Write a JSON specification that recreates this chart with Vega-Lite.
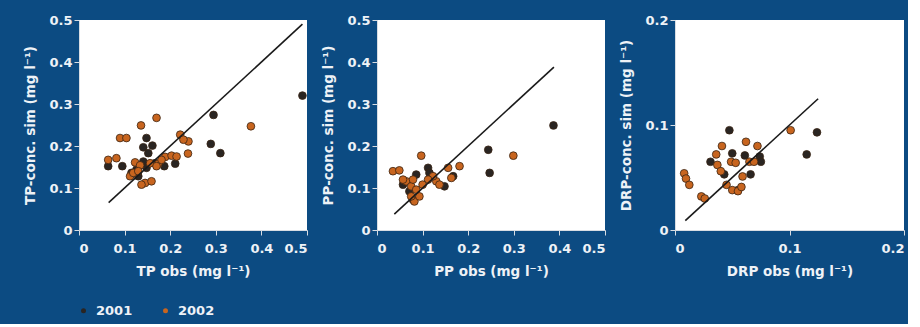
{
  "$schema": "https://vega.github.io/schema/vega-lite/v6.json",
  "background": "#0c4b82",
  "padding": {"left": 23, "top": 14, "right": 3, "bottom": 6},
  "bounds": "flush",
  "spacing": 70,
  "config": {
    "view": {"fill": "white", "stroke": null},
    "font": "DejaVu Sans",
    "axis": {
      "labelFont": "DejaVu Sans", "labelFontWeight": "bold", "labelFontSize": 13, "labelColor": "#eef2f7",
      "titleFont": "DejaVu Sans", "titleFontWeight": "bold", "titleFontSize": 13.5, "titleColor": "#eef2f7",
      "domainColor": "#d8dde3", "tickColor": "#d8dde3", "tickSize": 5, "grid": false, "format": "~g"
    },
    "axisX": {"labelPadding": 7, "titlePadding": 9},
    "axisY": {"labelPadding": 2, "titlePadding": 11},
    "legend": {
      "labelFont": "DejaVu Sans", "labelFontWeight": "bold", "labelFontSize": 13, "labelColor": "#eef2f7"
    }
  },
  "datasets": {
    "pts": [
      {"panel": "TP", "year": "2001", "obs": 0.49, "sim": 0.32},
      {"panel": "TP", "year": "2001", "obs": 0.295, "sim": 0.274},
      {"panel": "TP", "year": "2001", "obs": 0.289, "sim": 0.205},
      {"panel": "TP", "year": "2001", "obs": 0.31, "sim": 0.183},
      {"panel": "TP", "year": "2001", "obs": 0.148, "sim": 0.219},
      {"panel": "TP", "year": "2001", "obs": 0.141, "sim": 0.197},
      {"panel": "TP", "year": "2001", "obs": 0.161, "sim": 0.201},
      {"panel": "TP", "year": "2001", "obs": 0.152, "sim": 0.183},
      {"panel": "TP", "year": "2001", "obs": 0.064, "sim": 0.152},
      {"panel": "TP", "year": "2001", "obs": 0.095, "sim": 0.152},
      {"panel": "TP", "year": "2001", "obs": 0.141, "sim": 0.163},
      {"panel": "TP", "year": "2001", "obs": 0.211, "sim": 0.158},
      {"panel": "TP", "year": "2001", "obs": 0.187, "sim": 0.152},
      {"panel": "TP", "year": "2001", "obs": 0.115, "sim": 0.136},
      {"panel": "TP", "year": "2001", "obs": 0.126, "sim": 0.144},
      {"panel": "TP", "year": "2001", "obs": 0.148, "sim": 0.148},
      {"panel": "TP", "year": "2001", "obs": 0.167, "sim": 0.159},
      {"panel": "TP", "year": "2001", "obs": 0.13, "sim": 0.128},
      {"panel": "TP", "year": "2002", "obs": 0.377, "sim": 0.247},
      {"panel": "TP", "year": "2002", "obs": 0.17, "sim": 0.267},
      {"panel": "TP", "year": "2002", "obs": 0.136, "sim": 0.249},
      {"panel": "TP", "year": "2002", "obs": 0.09, "sim": 0.219},
      {"panel": "TP", "year": "2002", "obs": 0.104, "sim": 0.219},
      {"panel": "TP", "year": "2002", "obs": 0.222, "sim": 0.227},
      {"panel": "TP", "year": "2002", "obs": 0.24, "sim": 0.211},
      {"panel": "TP", "year": "2002", "obs": 0.229, "sim": 0.215},
      {"panel": "TP", "year": "2002", "obs": 0.239, "sim": 0.182},
      {"panel": "TP", "year": "2002", "obs": 0.064, "sim": 0.167},
      {"panel": "TP", "year": "2002", "obs": 0.082, "sim": 0.171},
      {"panel": "TP", "year": "2002", "obs": 0.123, "sim": 0.161},
      {"panel": "TP", "year": "2002", "obs": 0.134, "sim": 0.154},
      {"panel": "TP", "year": "2002", "obs": 0.156, "sim": 0.159},
      {"panel": "TP", "year": "2002", "obs": 0.174, "sim": 0.158},
      {"panel": "TP", "year": "2002", "obs": 0.189, "sim": 0.174},
      {"panel": "TP", "year": "2002", "obs": 0.203, "sim": 0.177},
      {"panel": "TP", "year": "2002", "obs": 0.214, "sim": 0.175},
      {"panel": "TP", "year": "2002", "obs": 0.145, "sim": 0.112},
      {"panel": "TP", "year": "2002", "obs": 0.159, "sim": 0.116},
      {"panel": "TP", "year": "2002", "obs": 0.137, "sim": 0.108},
      {"panel": "TP", "year": "2002", "obs": 0.112, "sim": 0.128},
      {"panel": "TP", "year": "2002", "obs": 0.119, "sim": 0.136},
      {"panel": "TP", "year": "2002", "obs": 0.181, "sim": 0.167},
      {"panel": "TP", "year": "2002", "obs": 0.17, "sim": 0.152},
      {"panel": "TP", "year": "2002", "obs": 0.13, "sim": 0.14},
      {"panel": "PP", "year": "2001", "obs": 0.387, "sim": 0.249},
      {"panel": "PP", "year": "2001", "obs": 0.244, "sim": 0.191},
      {"panel": "PP", "year": "2001", "obs": 0.247, "sim": 0.136},
      {"panel": "PP", "year": "2001", "obs": 0.086, "sim": 0.132},
      {"panel": "PP", "year": "2001", "obs": 0.112, "sim": 0.148},
      {"panel": "PP", "year": "2001", "obs": 0.167, "sim": 0.128},
      {"panel": "PP", "year": "2001", "obs": 0.148, "sim": 0.104},
      {"panel": "PP", "year": "2001", "obs": 0.057, "sim": 0.108},
      {"panel": "PP", "year": "2001", "obs": 0.079, "sim": 0.072},
      {"panel": "PP", "year": "2001", "obs": 0.115, "sim": 0.136},
      {"panel": "PP", "year": "2001", "obs": 0.071, "sim": 0.092},
      {"panel": "PP", "year": "2002", "obs": 0.299, "sim": 0.177},
      {"panel": "PP", "year": "2002", "obs": 0.097, "sim": 0.177},
      {"panel": "PP", "year": "2002", "obs": 0.035, "sim": 0.14},
      {"panel": "PP", "year": "2002", "obs": 0.049, "sim": 0.142},
      {"panel": "PP", "year": "2002", "obs": 0.156, "sim": 0.148},
      {"panel": "PP", "year": "2002", "obs": 0.181, "sim": 0.152},
      {"panel": "PP", "year": "2002", "obs": 0.163, "sim": 0.124},
      {"panel": "PP", "year": "2002", "obs": 0.064, "sim": 0.116},
      {"panel": "PP", "year": "2002", "obs": 0.075, "sim": 0.104},
      {"panel": "PP", "year": "2002", "obs": 0.082, "sim": 0.068},
      {"panel": "PP", "year": "2002", "obs": 0.13, "sim": 0.116},
      {"panel": "PP", "year": "2002", "obs": 0.123, "sim": 0.128},
      {"panel": "PP", "year": "2002", "obs": 0.112, "sim": 0.12},
      {"panel": "PP", "year": "2002", "obs": 0.057, "sim": 0.12},
      {"panel": "PP", "year": "2002", "obs": 0.086, "sim": 0.096},
      {"panel": "PP", "year": "2002", "obs": 0.1, "sim": 0.108},
      {"panel": "PP", "year": "2002", "obs": 0.137, "sim": 0.108},
      {"panel": "PP", "year": "2002", "obs": 0.075, "sim": 0.08},
      {"panel": "PP", "year": "2002", "obs": 0.093, "sim": 0.08},
      {"panel": "PP", "year": "2002", "obs": 0.079, "sim": 0.12},
      {"panel": "DRP", "year": "2001", "obs": 0.124, "sim": 0.093},
      {"panel": "DRP", "year": "2001", "obs": 0.115, "sim": 0.072},
      {"panel": "DRP", "year": "2001", "obs": 0.0475, "sim": 0.095},
      {"panel": "DRP", "year": "2001", "obs": 0.05, "sim": 0.073},
      {"panel": "DRP", "year": "2001", "obs": 0.061, "sim": 0.071},
      {"panel": "DRP", "year": "2001", "obs": 0.074, "sim": 0.07},
      {"panel": "DRP", "year": "2001", "obs": 0.075, "sim": 0.065},
      {"panel": "DRP", "year": "2001", "obs": 0.031, "sim": 0.065},
      {"panel": "DRP", "year": "2001", "obs": 0.066, "sim": 0.053},
      {"panel": "DRP", "year": "2001", "obs": 0.043, "sim": 0.053},
      {"panel": "DRP", "year": "2001", "obs": 0.055, "sim": 0.038},
      {"panel": "DRP", "year": "2002", "obs": 0.101, "sim": 0.095},
      {"panel": "DRP", "year": "2002", "obs": 0.062, "sim": 0.084},
      {"panel": "DRP", "year": "2002", "obs": 0.072, "sim": 0.08},
      {"panel": "DRP", "year": "2002", "obs": 0.041, "sim": 0.08},
      {"panel": "DRP", "year": "2002", "obs": 0.036, "sim": 0.072},
      {"panel": "DRP", "year": "2002", "obs": 0.037, "sim": 0.062},
      {"panel": "DRP", "year": "2002", "obs": 0.049, "sim": 0.065},
      {"panel": "DRP", "year": "2002", "obs": 0.053, "sim": 0.064},
      {"panel": "DRP", "year": "2002", "obs": 0.065, "sim": 0.065},
      {"panel": "DRP", "year": "2002", "obs": 0.069, "sim": 0.065},
      {"panel": "DRP", "year": "2002", "obs": 0.008, "sim": 0.054},
      {"panel": "DRP", "year": "2002", "obs": 0.0096, "sim": 0.049},
      {"panel": "DRP", "year": "2002", "obs": 0.0125, "sim": 0.043},
      {"panel": "DRP", "year": "2002", "obs": 0.023, "sim": 0.032},
      {"panel": "DRP", "year": "2002", "obs": 0.026, "sim": 0.03},
      {"panel": "DRP", "year": "2002", "obs": 0.045, "sim": 0.043},
      {"panel": "DRP", "year": "2002", "obs": 0.05, "sim": 0.038},
      {"panel": "DRP", "year": "2002", "obs": 0.055, "sim": 0.037},
      {"panel": "DRP", "year": "2002", "obs": 0.058, "sim": 0.041},
      {"panel": "DRP", "year": "2002", "obs": 0.059, "sim": 0.051},
      {"panel": "DRP", "year": "2002", "obs": 0.04, "sim": 0.056}
    ],
    "lines": [
      {"panel": "TP", "obs": 0.065, "sim": 0.065},
      {"panel": "TP", "obs": 0.49, "sim": 0.49},
      {"panel": "PP", "obs": 0.038, "sim": 0.038},
      {"panel": "PP", "obs": 0.388, "sim": 0.388},
      {"panel": "DRP", "obs": 0.009, "sim": 0.009},
      {"panel": "DRP", "obs": 0.125, "sim": 0.125}
    ]
  },
  "hconcat": [
    {
      "width": 228, "height": 210,
      "layer": [
        {
          "data": {"name": "pts"},
          "transform": [{"filter": "datum.panel === 'TP'"}],
          "mark": {"type": "point", "filled": true, "size": 60, "stroke": "#3a2414", "strokeWidth": 0.8, "opacity": 1},
          "encoding": {
            "x": {"field": "obs", "type": "quantitative", "scale": {"domain": [0, 0.5], "nice": false}, "axis": {"title": "TP obs (mg l⁻¹)", "values": [0, 0.1, 0.2, 0.3, 0.4, 0.5]}},
            "y": {"field": "sim", "type": "quantitative", "scale": {"domain": [0, 0.5], "nice": false}, "axis": {"title": "TP-conc. sim (mg l⁻¹)", "values": [0, 0.1, 0.2, 0.3, 0.4, 0.5]}},
            "color": {"field": "year", "type": "nominal", "scale": {"domain": ["2001", "2002"], "range": ["#2a2522", "#c8651f"]},
              "legend": {"title": null, "orient": "none", "legendX": -2, "legendY": 284, "direction": "horizontal", "symbolSize": 25, "symbolStrokeWidth": 0, "columnPadding": 26, "labelOffset": 6}}
          }
        },
        {
          "data": {"name": "lines"},
          "transform": [{"filter": "datum.panel === 'TP'"}],
          "mark": {"type": "line", "color": "#1a1a1a", "strokeWidth": 1.6},
          "encoding": {
            "x": {"field": "obs", "type": "quantitative"},
            "y": {"field": "sim", "type": "quantitative"}
          }
        }
      ]
    },
    {
      "width": 228, "height": 210,
      "layer": [
        {
          "data": {"name": "pts"},
          "transform": [{"filter": "datum.panel === 'PP'"}],
          "mark": {"type": "point", "filled": true, "size": 60, "stroke": "#3a2414", "strokeWidth": 0.8, "opacity": 1},
          "encoding": {
            "x": {"field": "obs", "type": "quantitative", "scale": {"domain": [0, 0.5], "nice": false}, "axis": {"title": "PP obs (mg l⁻¹)", "values": [0, 0.1, 0.2, 0.3, 0.4, 0.5]}},
            "y": {"field": "sim", "type": "quantitative", "scale": {"domain": [0, 0.5], "nice": false}, "axis": {"title": "PP-conc. sim (mg l⁻¹)", "values": [0, 0.1, 0.2, 0.3, 0.4, 0.5]}},
            "color": {"field": "year", "type": "nominal"}
          }
        },
        {
          "data": {"name": "lines"},
          "transform": [{"filter": "datum.panel === 'PP'"}],
          "mark": {"type": "line", "color": "#1a1a1a", "strokeWidth": 1.6},
          "encoding": {
            "x": {"field": "obs", "type": "quantitative"},
            "y": {"field": "sim", "type": "quantitative"}
          }
        }
      ]
    },
    {
      "width": 229, "height": 210,
      "layer": [
        {
          "data": {"name": "pts"},
          "transform": [{"filter": "datum.panel === 'DRP'"}],
          "mark": {"type": "point", "filled": true, "size": 60, "stroke": "#3a2414", "strokeWidth": 0.8, "opacity": 1},
          "encoding": {
            "x": {"field": "obs", "type": "quantitative", "scale": {"domain": [0, 0.2], "nice": false}, "axis": {"title": "DRP obs (mg l⁻¹)", "values": [0, 0.1, 0.2]}},
            "y": {"field": "sim", "type": "quantitative", "scale": {"domain": [0, 0.2], "nice": false}, "axis": {"title": "DRP-conc. sim (mg l⁻¹)", "values": [0, 0.1, 0.2]}},
            "color": {"field": "year", "type": "nominal"}
          }
        },
        {
          "data": {"name": "lines"},
          "transform": [{"filter": "datum.panel === 'DRP'"}],
          "mark": {"type": "line", "color": "#1a1a1a", "strokeWidth": 1.6},
          "encoding": {
            "x": {"field": "obs", "type": "quantitative"},
            "y": {"field": "sim", "type": "quantitative"}
          }
        }
      ]
    }
  ]
}
